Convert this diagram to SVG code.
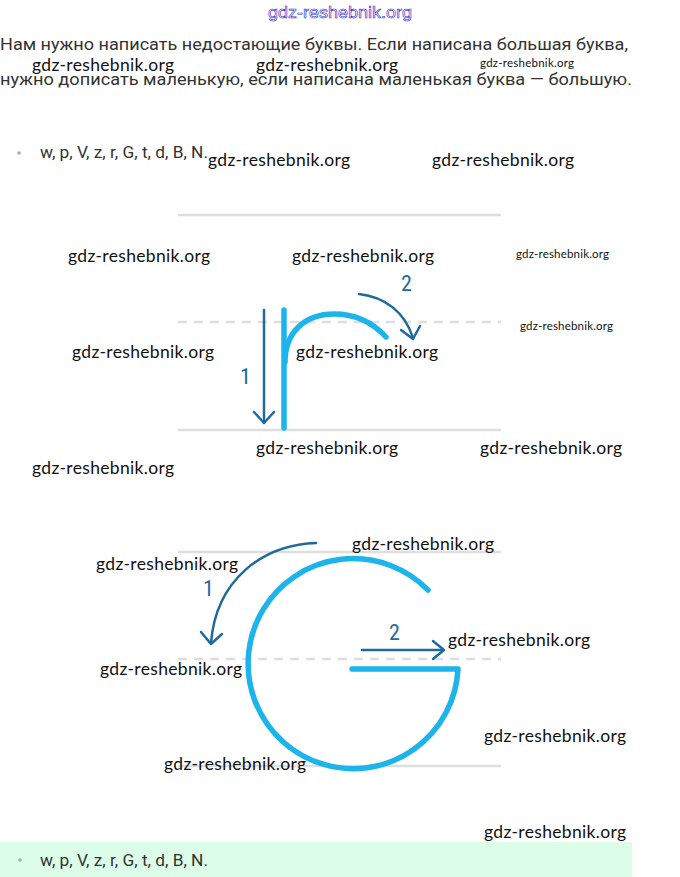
<svg xmlns="http://www.w3.org/2000/svg" width="680" height="877" viewBox="0 0 680 877">
<style>
.t{font-family:Roboto,"Noto Sans",sans-serif;font-size:17px;fill:#333}
.w{font-family:Lato,"Open Sans",sans-serif;font-size:17.5px;fill:#111}
.ws{font-family:Lato,"Open Sans",sans-serif;font-size:11.5px;fill:#111}
.g{stroke:#dedede;stroke-width:2.5;fill:none}
.gd{stroke:#dedede;stroke-width:2.5;fill:none;stroke-dasharray:9 7}
.L{stroke:#1cb4ea;stroke-width:5.5;fill:none;stroke-linecap:round;stroke-linejoin:round}
.A{stroke:#1f6a9c;stroke-width:2.5;fill:none;stroke-linecap:round;stroke-linejoin:round}
.n{font-family:"Roboto Condensed",Roboto,"Noto Sans",sans-serif;font-size:22px;fill:#1f6a9c}
.b{font-family:Roboto,"Noto Sans",sans-serif;font-size:16px;fill:#333}
</style>
<rect width="680" height="877" fill="#fff"/>
<rect x="0" y="842" width="632" height="35" fill="#dcfde8"/>
<text x="340" y="18" text-anchor="middle" style="font-family:'Liberation Sans',sans-serif;font-size:16px;fill:#fff;stroke:#3535c8;stroke-width:0.6" textLength="144" lengthAdjust="spacingAndGlyphs">gdz-reshebnik.org</text>
<text class="t" x="0" y="50" textLength="628" lengthAdjust="spacingAndGlyphs">Нам нужно написать недостающие буквы. Если написана большая буква,</text>
<text class="t" x="0" y="85" textLength="632" lengthAdjust="spacingAndGlyphs">нужно дописать маленькую, если написана маленькая буква — большую.</text>
<circle cx="19" cy="153" r="1.8" fill="#aaa"/>
<text class="b" x="40" y="158" textLength="168" lengthAdjust="spacingAndGlyphs">w, p, V, z, r, G, t, d, B, N.</text>
<circle cx="20" cy="860" r="1.8" fill="#aaa"/>
<text class="b" x="40" y="866" textLength="168" lengthAdjust="spacingAndGlyphs">w, p, V, z, r, G, t, d, B, N.</text>
<g id="guides">
<line class="g" x1="178" y1="215" x2="501" y2="215"/>
<line class="gd" x1="178" y1="322" x2="501" y2="322"/>
<line class="g" x1="178" y1="430" x2="501" y2="430"/>
<line class="g" x1="178" y1="552" x2="501" y2="552"/>
<line class="gd" x1="178" y1="659" x2="501" y2="659"/>
<line class="g" x1="178" y1="766" x2="501" y2="766"/>
</g>
<g id="letter-r">
<line class="L" x1="284" y1="310" x2="284" y2="428"/>
<path class="L" d="M285 362 C285 332 305 314 334 314 C358 314 375 325 386 337"/>
</g>
<g id="letter-G">
<path class="L" d="M428 590 A105 105 0 1 0 458 669 L352 669"/>
</g>
<g id="connectors">
<line class="A" x1="264" y1="310" x2="264" y2="423"/>
<path class="A" d="M254 412 L264 423 L274 412"/>
<path class="A" d="M359 294 C385 297 405 312 413 338"/>
<path class="A" d="M401 330 L413 339 L420 326"/>
<path class="A" d="M316 543 C262 545 216 580 211 643"/>
<path class="A" d="M201 632 L211 644 L222 634"/>
<line class="A" x1="362" y1="650" x2="443" y2="650"/>
<path class="A" d="M433 641 L444 650 L433 659"/>
</g>
<text class="n" x="240" y="384">1</text>
<text class="n" x="401" y="291">2</text>
<text class="n" x="203" y="596">1</text>
<text class="n" x="389" y="640">2</text>
<g id="watermarks">
<text class="w" x="32" y="71" textLength="142">gdz-reshebnik.org</text>
<text class="w" x="256" y="71" textLength="142">gdz-reshebnik.org</text>
<text class="ws" x="480" y="67" textLength="94">gdz-reshebnik.org</text>
<text class="w" x="208" y="166" textLength="142">gdz-reshebnik.org</text>
<text class="w" x="432" y="166" textLength="142">gdz-reshebnik.org</text>
<text class="w" x="68" y="262" textLength="142">gdz-reshebnik.org</text>
<text class="w" x="292" y="262" textLength="142">gdz-reshebnik.org</text>
<text class="ws" x="516" y="258" textLength="93">gdz-reshebnik.org</text>
<text class="ws" x="520" y="330" textLength="93">gdz-reshebnik.org</text>
<text class="w" x="72" y="358" textLength="142">gdz-reshebnik.org</text>
<text class="w" x="296" y="358" textLength="142">gdz-reshebnik.org</text>
<text class="w" x="256" y="454" textLength="142">gdz-reshebnik.org</text>
<text class="w" x="480" y="454" textLength="142">gdz-reshebnik.org</text>
<text class="w" x="32" y="474" textLength="142">gdz-reshebnik.org</text>
<text class="w" x="352" y="550" textLength="142">gdz-reshebnik.org</text>
<text class="w" x="96" y="570" textLength="142">gdz-reshebnik.org</text>
<text class="w" x="448" y="646" textLength="142">gdz-reshebnik.org</text>
<text class="w" x="100" y="675" textLength="142">gdz-reshebnik.org</text>
<text class="w" x="484" y="742" textLength="142">gdz-reshebnik.org</text>
<text class="w" x="164" y="770" textLength="142">gdz-reshebnik.org</text>
<text class="w" x="484" y="838" textLength="142">gdz-reshebnik.org</text>
</g>
</svg>
